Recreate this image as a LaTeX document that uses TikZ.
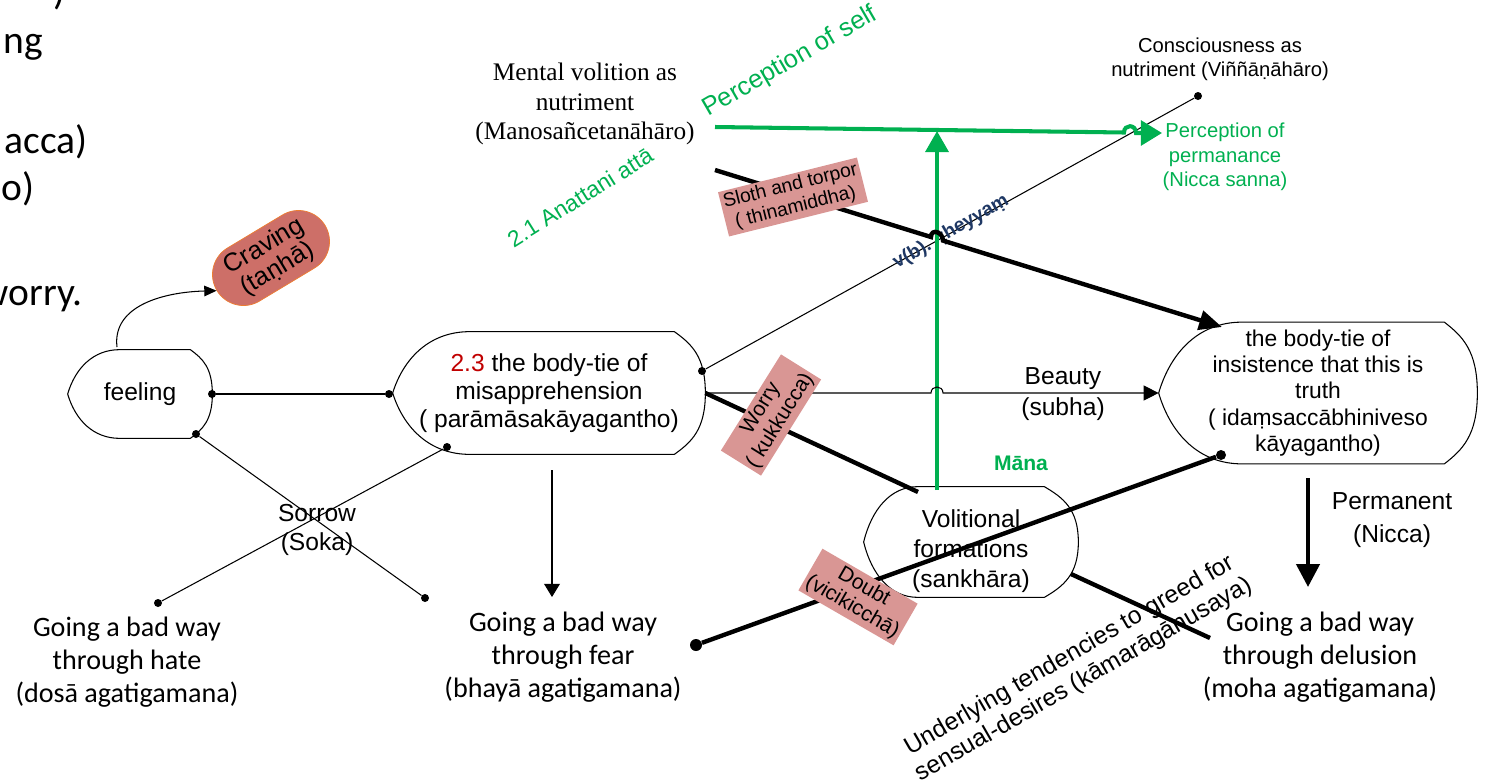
\documentclass[tikz,border=0pt]{standalone}
\usepackage{fontspec}
\setmainfont{Liberation Sans}
\newfontfamily\calibrifont{Carlito}
\newfontfamily\timesfont{Liberation Serif}
\usetikzlibrary{arrows.meta,calc,shapes.misc}

\definecolor{mygreen}{HTML}{00B050}
\definecolor{myred}{HTML}{C00000}
\definecolor{pinkbox}{HTML}{D99694}
\definecolor{cravefill}{HTML}{CD6F68}
\definecolor{craveline}{HTML}{ED7D31}
\definecolor{labelblue}{HTML}{1F3864}

\tikzset{
  dispbox/.style={draw=none, align=center, font=\fontsize{14}{16}\selectfont},
  dot/.style={circle, fill=black, inner sep=0pt, minimum size=8*0.02cm},
  bigdot/.style={circle, fill=black, inner sep=0pt, minimum size=12*0.02cm},
  thinline/.style={line width=0.6pt},
  thickline/.style={line width=2.5pt},
  greenline/.style={line width=2.3pt, draw=mygreen},
  pinklabel/.style={fill=pinkbox, inner sep=1.6pt, align=center, font=\fontsize{12}{13}\selectfont},
  goingtext/.style={align=center, font=\calibrifont\fontsize{16}{18.7}\selectfont},
  fragtext/.style={anchor=base east, inner sep=0pt, font=\calibrifont\fontsize{22.5}{27}\selectfont},
}

% outline of a display box: node, height, left curve, right curve (px)
\newcommand{\dispoutline}[4]{%
  \draw[thinline] ($(#1.north west)+(#3,0)$) -- ($(#1.north east)+(-#4,0)$)
    .. controls ($(#1.north east)+(-0.45*#4,0.1*#2)$) and ($(#1.east)+(0,-0.3*#2)$) .. (#1.east)
    .. controls ($(#1.east)+(0,0.3*#2)$) and ($(#1.south east)+(-0.45*#4,-0.1*#2)$) .. ($(#1.south east)+(-#4,0)$)
    -- ($(#1.south west)+(#3,0)$)
    .. controls ($(#1.south west)+(0.5*#3,0)$) and ($(#1.west)+(0.15*#3,0.3*#2)$) .. (#1.west)
    .. controls ($(#1.west)+(0.15*#3,-0.3*#2)$) and ($(#1.north west)+(0.5*#3,0)$) .. cycle;}

\begin{document}
\begin{tikzpicture}[x=0.02cm, y=-0.02cm]
\useasboundingbox (0,0) rectangle (1491,782);

% cut-off text at the left edge
\node[fragtext] (frag0) at (66,4) {)};
\node[fragtext] (frag1) at (43,53) {ng};
\node[fragtext] (frag2) at (88,153) {acca)};
\node[fragtext] (frag3) at (35,200) {o)};
\node[fragtext] (frag4) at (83,305) {worry.};

% boxes
\node[dispbox, minimum width=144*0.02cm, minimum height=88*0.02cm] (feeling) at (140,394) {feeling};
\node[dispbox, minimum width=312*0.02cm, minimum height=122*0.02cm] (bodytie) at (549,393) {\textcolor{myred}{2.3} the body-tie of\\misapprehension\\( parāmāsakāyagantho)};
\node[dispbox, font=\fontsize{13}{14.9}\selectfont, minimum width=318*0.02cm, minimum height=141*0.02cm] (insist) at (1318,393) {the body-tie of\\insistence that this is\\truth\\( idaṃsaccābhiniveso\\kāyagantho)};
\node[dispbox, minimum width=214*0.02cm, minimum height=110*0.02cm,
  label={[align=center, yshift=-5pt, font=\fontsize{14}{17}\selectfont]center:Volitional\\formations\\(sankhāra)}] (volit) at (971,542) {};
\dispoutline{feeling}{88}{52}{22}
\dispoutline{bodytie}{122}{77}{31}
\dispoutline{insist}{141}{83}{33}
\dispoutline{volit}{110}{54}{34}

\node[rounded rectangle, draw=craveline, fill=cravefill, rotate=31, minimum width=128*0.02cm, minimum height=62*0.02cm,
  align=center, inner sep=0.5pt, font=\fontsize{14.5}{15}\selectfont] (craving) at (271,258) {Craving\\(taṇhā)};

% end points
\node[dot] (fe) at (212,394) {};
\node[dot] (bl) at (389,394) {};
\node[dot] (fd) at (196,434) {};
\node[dot] (sd) at (425,598) {};
\node[dot] (bd) at (447,447) {};
\node[dot] (hd) at (158,603) {};
\node[dot] (bu) at (702,371) {};
\node[dot] (cd) at (1198,96) {};
\node[dot, minimum size=10*0.02cm] (ib) at (1221,455) {};
\node[bigdot] (dd) at (696,645) {};
\coordinate (vt) at (918,492);
\coordinate (sl) at (715,170);
\coordinate (sh1) at (931,237);
\coordinate (sh2) at (943,240.6);
\coordinate (st) at (1222,327);
\coordinate (gs) at (715,127);
\coordinate (gh1) at (1124,132.5);
\coordinate (gh2) at (1136,133);
\coordinate (ge) at (1162,133);
\coordinate (vg) at (937,490);
\coordinate (gt) at (937,131);
\coordinate (bh1) at (931,393);
\coordinate (bh2) at (943,393);
\coordinate (ua) at (1071,574);
\coordinate (ub) at (1210,638);
\coordinate (fa) at (552,470);
\coordinate (fb) at (552,597);
\coordinate (pa) at (1308,478);
\coordinate (pb) at (1308,587);
\coordinate (ft) at (117,347);

% texts
\node[goingtext] (hate) at (127,662) {Going a bad way\\through hate\\(dosā agatigamana)};
\node[goingtext] (fear) at (563,657) {Going a bad way\\through fear\\(bhayā agatigamana)};
\node[goingtext] (delusion) at (1320,657) {Going a bad way\\through delusion\\(moha agatigamana)};
\node[align=center, font=\timesfont\fontsize{14.4}{17}\selectfont] (mental) at (585,104) {Mental volition as\\nutriment\\(Manosañcetanāhāro)};
\node[align=center, font=\fontsize{11.5}{13.6}\selectfont] (conscious) at (1220,59) {Consciousness as\\nutriment (Viññāṇāhāro)};
\node[align=center, text=mygreen, font=\fontsize{11.5}{13.9}\selectfont] (permanance) at (1225,157) {Perception of\\permanance\\(Nicca sanna)};
\node[text=mygreen, rotate=30, font=\fontsize{14.5}{16}\selectfont] (selfperc) at (790,62) {Perception of self};
\node[text=mygreen, rotate=32, font=\fontsize{13}{15}\selectfont] (anattani) at (580,197) {2.1 Anattani attā};
\node[text=mygreen, font=\bfseries\fontsize{12}{14}\selectfont] (mana) at (1021,463) {Māna};
\node[align=center, font=\fontsize{14}{18}\selectfont] (beauty) at (1063,394) {Beauty\\(subha)};
\node[align=center, font=\fontsize{14}{18.7}\selectfont] (permanent) at (1392,520) {Permanent\\(Nicca)};
\node[align=center, font=\fontsize{14}{17}\selectfont] (sorrow) at (317,530) {Sorrow\\(Soka)};
\node[rotate=30, align=center, font=\fontsize{14}{16}\selectfont] (tendency) at (1077,668) {Underlying tendencies to greed for\\sensual-desires (kāmarāgānusaya)};

% thin connectors
\draw[thinline] (fe) -- (bl);
\draw[thinline] (fd) -- (sd);
\draw[thinline] (bd) -- (hd);
\draw[thinline] (bu) -- (cd);
\draw[thinline, -{Triangle[length=7pt,width=6pt]}] (ft) .. controls (112,305) and (165,292) .. (craving.west);
\draw[thinline, -{Triangle[length=7.5pt,width=9pt]}] (fa) -- (fb);
\node[rotate=30, text=labelblue, font=\bfseries\fontsize{11}{13}\selectfont] (vb) at (951,232) {v(b).\ \ ṭheyyaṃ};

% green
\draw[greenline, -{Triangle[length=12pt,width=13pt]}] (vg) -- (gt);
\draw[greenline, -{Triangle[length=12pt,width=14pt]}] (gs) -- (gh1) .. controls (1124,124) and (1136,124) .. (gh2) -- (ge);

% thick connectors
\draw[thinline, -{Triangle[length=8.5pt,width=8.5pt]}] (bodytie.east) -- (bh1) .. controls (931,385) and (943,385) .. (bh2) -- (insist.west);
\draw[thickline] (bodytie.east) -- (vt);
\draw[thickline] (dd) -- (ib);
\draw[thickline] (ua) -- (ub);
\draw[thickline, -{Triangle[length=13pt,width=13pt]}] (pa) -- (pb);
\draw[thickline, -{Triangle[length=13pt,width=11pt]}] (sl) -- (sh1) .. controls (931,228) and (943,232) .. (sh2) -- (st);

% labels on the lines
\node[pinklabel, rotate=14, font=\fontsize{11}{12.5}\selectfont] (sloth) at (793,197) {Sloth and torpor\\( thinamiddha)};
\node[pinklabel, rotate=58] (worry) at (771,415) {Worry\\( kukkucca)};
\node[pinklabel, rotate=-30] (doubt) at (858,597) {Doubt\\(vicikicchā)};
\end{tikzpicture}
\end{document}
